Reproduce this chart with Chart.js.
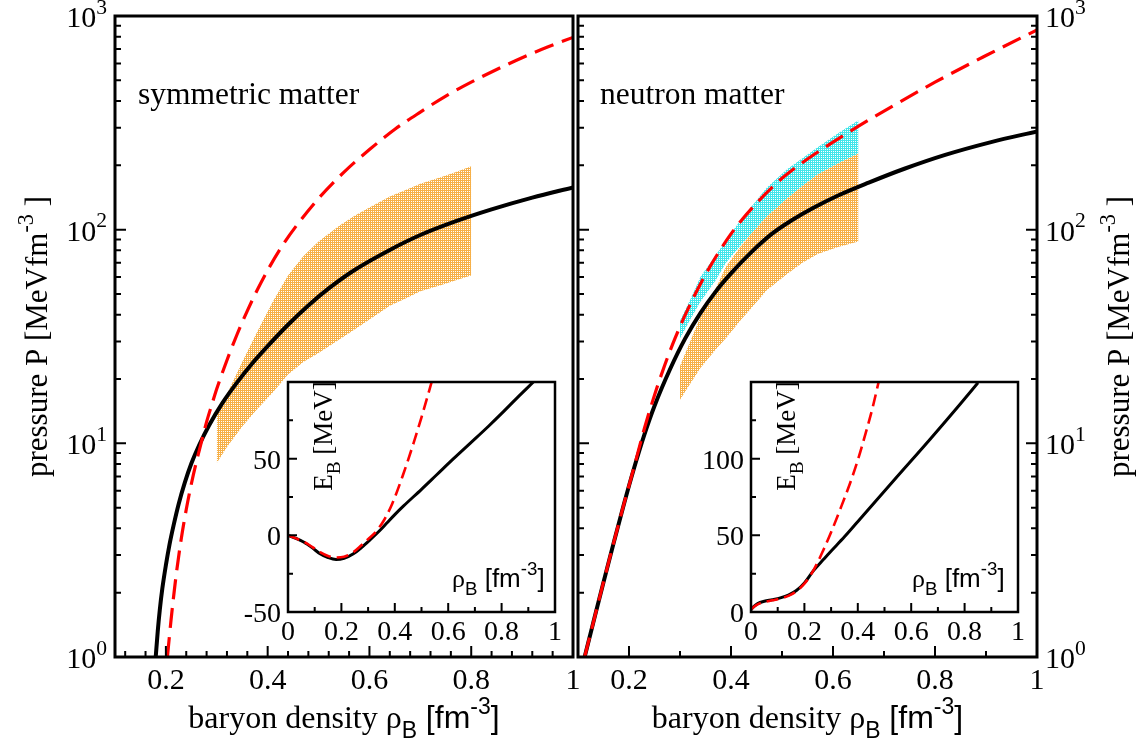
<!DOCTYPE html>
<html>
<head>
<meta charset="utf-8">
<script src="https://cdn.jsdelivr.net/npm/chart.js@4.4.1/dist/chart.umd.min.js"></script>
<style>
  html, body { margin: 0; padding: 0; background: #fff; }
  body { width: 1147px; height: 747px; position: relative; overflow: hidden; }
  canvas { position: absolute; }
</style>
</head>
<body>
<canvas id="symMain" width="600" height="747" style="left:0;top:0"></canvas>
<canvas id="neutMain" width="597" height="747" style="left:550px;top:0"></canvas>
<canvas id="symInset" width="340" height="300" style="left:230px;top:370px"></canvas>
<canvas id="neutInset" width="340" height="300" style="left:693px;top:370px"></canvas>
<script>
// ---- symmetric matter, pressure vs density ----
const symBlackRho = [0.180, 0.184, 0.188, 0.193, 0.200, 0.207, 0.215, 0.225, 0.237, 0.250, 0.265, 0.285, 0.31, 0.34, 0.37, 0.40, 0.44, 0.48, 0.52, 0.57, 0.64, 0.70, 0.77, 0.84, 0.92, 1.0];
const symBlackP   = [1.0, 1.32, 1.66, 2.09, 2.69, 3.35, 4.12, 5.19, 6.53, 8.04, 9.77, 12.16, 15.31, 19.28, 23.71, 28.5, 35.9, 44.2, 53.1, 64.6, 80.4, 94.4, 109.6, 124.5, 141.3, 157.8];
const symRedRho = [0.203, 0.21, 0.22, 0.23, 0.24, 0.25, 0.26, 0.27, 0.28, 0.29, 0.30, 0.32, 0.34, 0.36, 0.38, 0.40, 0.43, 0.46, 0.50, 0.55, 0.60, 0.65, 0.70, 0.75, 0.80, 0.85, 0.90, 0.95, 1.0];
const symRedP   = [1.0, 1.48, 2.4, 3.55, 4.9, 6.45, 8.2, 10.2, 12.6, 15.1, 18, 24.5, 32.4, 41.7, 52.5, 64.6, 85, 107, 140, 186, 237, 295, 355, 422, 490, 562, 638, 716, 794];
const symBandRho  = [0.30, 0.32, 0.35, 0.38, 0.41, 0.44, 0.47, 0.50, 0.54, 0.57, 0.60, 0.64, 0.67, 0.70, 0.74, 0.77, 0.80];
const symBandLow  = [8.1, 9.6, 12, 14.5, 17.3, 21, 24, 26.5, 30.5, 34, 38, 44, 47.5, 51.5, 55, 58, 61];
const symBandHigh = [13.8, 17, 24, 33.5, 46, 61, 75, 88, 104, 116, 127, 143, 153, 164, 176, 186, 198];

// ---- neutron matter, pressure vs density ----
const neutBlackRho = [0.113, 0.13, 0.15, 0.17, 0.19, 0.21, 0.23, 0.25, 0.28, 0.31, 0.34, 0.37, 0.40, 0.44, 0.48, 0.52, 0.56, 0.61, 0.67, 0.74, 0.82, 0.91, 1.0];
const neutBlackP   = [1.0, 1.45, 2.24, 3.43, 5.19, 7.67, 10.96, 14.96, 22.1, 30.9, 40.7, 51.3, 62.4, 78.5, 95.5, 110.9, 125.9, 144.5, 166, 192.8, 223.9, 257, 288.4];
const neutRedRho = [0.113, 0.13, 0.15, 0.17, 0.19, 0.21, 0.23, 0.25, 0.27, 0.29, 0.31, 0.35, 0.40, 0.45, 0.50, 0.55, 0.60, 0.65, 0.70, 0.80, 0.90, 1.0];
const neutRedP   = [1.0, 1.45, 2.24, 3.43, 5.19, 7.75, 11.7, 16.8, 23.2, 30.9, 39.8, 61.7, 95.5, 133, 174, 214, 257, 305, 359, 490, 653, 861];
const neutBandRho    = [0.30, 0.32, 0.34, 0.37, 0.39, 0.42, 0.44, 0.47, 0.51, 0.54, 0.57, 0.61, 0.65];
const neutOrangeLow  = [16, 19, 22.5, 27.5, 31, 38, 43, 52, 62, 70, 77, 83, 88];
const neutOrangeHigh = [23, 30, 39, 53, 67, 84, 96, 115, 140, 160, 181, 204, 227];
const neutCyanLow    = [31, 38, 46, 58, 70, 85, 96, 115, 140, 160, 181, 204, 227];
const neutCyanHigh   = [37.5, 47, 60, 76, 89, 112, 128, 157, 192, 216, 243, 283, 325];

// ---- insets: binding energy vs density ----
const symInsetBlackRho = [0, 0.03, 0.06, 0.09, 0.12, 0.15, 0.18, 0.21, 0.245, 0.275, 0.307, 0.34, 0.37, 0.40, 0.432, 0.50, 0.557, 0.62, 0.682, 0.75, 0.806, 0.86, 0.919];
const symInsetBlackE   = [0, -2, -4.5, -8, -12, -14.5, -15.8, -15, -12, -8, -3, 2.5, 8, 13.5, 19, 30, 39.5, 50, 60, 71, 80.5, 90, 100];
const symInsetRedRho = [0, 0.03, 0.06, 0.09, 0.12, 0.15, 0.18, 0.21, 0.245, 0.275, 0.30, 0.33, 0.36, 0.39, 0.43, 0.47, 0.50, 0.538];
const symInsetRedE   = [0, -2, -4.3, -7.5, -11, -13.5, -14.5, -14, -11, -6.5, -2.5, 2.5, 10, 20.5, 39, 60, 77, 100];
const neutInsetBlackRho = [0, 0.01, 0.025, 0.05, 0.08, 0.11, 0.14, 0.17, 0.2, 0.234, 0.27, 0.296, 0.35, 0.42, 0.546, 0.67, 0.783, 0.85];
const neutInsetBlackE   = [1.5, 3.5, 5.5, 7, 8, 9.2, 11, 14, 19, 27, 34, 39, 49, 63, 88, 112.5, 135.5, 149.5];
const neutInsetRedRho = [0, 0.01, 0.025, 0.05, 0.08, 0.11, 0.14, 0.17, 0.2, 0.225, 0.25, 0.27, 0.30, 0.333, 0.37, 0.40, 0.43, 0.455, 0.478];
const neutInsetRedE   = [1.5, 3.3, 5, 6.5, 7.6, 8.8, 10.5, 13.5, 18.5, 24.5, 32.5, 40, 52, 66.5, 83.5, 99, 117, 133, 150];

// ---- ticks ----
const mainXMajor  = [0.2, 0.4, 0.6, 0.8, 1.0];
const mainXLabels = ['0.2', '0.4', '0.6', '0.8', '1'];
const symXMinor  = [0.12, 0.16, 0.24, 0.28, 0.32, 0.36, 0.44, 0.48, 0.52, 0.56, 0.64, 0.68, 0.72, 0.76, 0.84, 0.88, 0.92, 0.96];
const neutXMinor = [0.3, 0.5, 0.7, 0.9];
const logMajor  = [1, 10, 100, 1000];
const logExp    = ['0', '1', '2', '3'];
const logMinor  = [2, 3, 4, 5, 6, 7, 8, 9, 20, 30, 40, 50, 60, 70, 80, 90, 200, 300, 400, 500, 600, 700, 800, 900];
const insetXMajor  = [0, 0.2, 0.4, 0.6, 0.8, 1];
const insetXLabels = ['0', '0.2', '0.4', '0.6', '0.8', '1'];
const insetXMinor  = [0.1, 0.3, 0.5, 0.7, 0.9];
const symInsetYMajor  = [-50, 0, 50];
const symInsetYMinor  = [-25, 25, 75];
const neutInsetYMajor = [0, 50, 100];
const neutInsetYMinor = [25, 75, 125];

const SERIF = '"Liberation Serif", "Times New Roman", Times, serif';
const SANS = '"Liberation Sans", Arial, Helvetica, sans-serif';

// draw a run of text pieces with sub/superscripts
function rich(ctx, parts, x, y, size, align) {
  let total = 0;
  const runs = parts.map(p => {
    const s = p[2] ? size * 0.72 : size;
    ctx.font = s.toFixed(1) + 'px ' + p[1];
    const w = ctx.measureText(p[0]).width;
    total += w;
    return { text: p[0], font: ctx.font, w, dy: p[2] === 'sub' ? size * 0.3 : p[2] === 'sup' ? -size * 0.45 : 0 };
  });
  let cx = align === 'center' ? x - total / 2 : align === 'right' ? x - total : x;
  ctx.textAlign = 'left';
  ctx.textBaseline = 'alphabetic';
  runs.forEach(r => { ctx.font = r.font; ctx.fillText(r.text, cx, y + r.dy); cx += r.w; });
}

function stipple(r, g, b) {
  const p = document.createElement('canvas');
  p.width = 2; p.height = 2;
  const q = p.getContext('2d');
  q.fillStyle = `rgb(${r},${g},${b})`;
  q.fillRect(0, 0, 2, 2);
  q.fillStyle = '#fff';
  q.fillRect(1, 1, 1, 1);
  return q.createPattern(p, 'repeat');
}
const orangeFill = stipple(246, 176, 72);
const cyanFill = stipple(64, 230, 235);

function pts(xs, ys) { return xs.map((v, i) => ({ x: v, y: ys[i] })); }

function curve(xs, ys, color, width, dash) {
  return { data: pts(xs, ys), borderColor: color, borderWidth: width, borderDash: dash || [],
           borderCapStyle: 'butt', pointRadius: 0, fill: false, cubicInterpolationMode: 'monotone' };
}
function edge(xs, ys, fillStyle) {
  return { data: pts(xs, ys), borderColor: 'rgba(0,0,0,0)', borderWidth: 0, pointRadius: 0,
           fill: fillStyle ? '-1' : false, backgroundColor: fillStyle || 'rgba(0,0,0,0)', tension: 0 };
}

// frame, inward ticks, tick labels and texts
function makeAxes(cfg) {
  return {
    id: 'frame',
    beforeDraw(chart) {
      if (!cfg.white) return;
      const a = chart.chartArea, c = chart.ctx;
      c.save();
      c.fillStyle = '#fff';
      c.fillRect(a.left, a.top, a.right - a.left, a.bottom - a.top);
      c.restore();
    },
    afterDraw(chart) {
      const c = chart.ctx, a = chart.chartArea, xs = chart.scales.x, ys = chart.scales.y;
      c.save();
      c.strokeStyle = '#000';
      c.fillStyle = '#000';
      c.lineWidth = cfg.tickWidth;
      c.beginPath();
      const tickX = (vals, len) => vals.forEach(v => {
        const p = xs.getPixelForValue(v);
        c.moveTo(p, a.bottom); c.lineTo(p, a.bottom - len);
      });
      const tickY = (vals, len, side) => vals.forEach(v => {
        const p = ys.getPixelForValue(v);
        if (side === 'left') { c.moveTo(a.left, p); c.lineTo(a.left + len, p); }
        else { c.moveTo(a.right, p); c.lineTo(a.right - len, p); }
      });
      tickX(cfg.xMinor, cfg.minorLen);
      tickX(cfg.xMajor, cfg.majorLen);
      cfg.ySides.forEach(s => { tickY(cfg.yMinor, cfg.minorLen, s); tickY(cfg.yMajor, cfg.majorLen, s); });
      c.stroke();
      c.lineWidth = cfg.frameWidth;
      c.strokeRect(a.left, a.top, a.right - a.left, a.bottom - a.top);

      cfg.xMajor.forEach((v, i) => rich(c, [[cfg.xLabels[i], SERIF]], xs.getPixelForValue(v), a.bottom + cfg.xLabelDy, cfg.tickSize, 'center'));
      cfg.yMajor.forEach((v, i) => {
        if (!cfg.yLabels[i]) return;
        const p = ys.getPixelForValue(v) + cfg.yLabelDy;
        const parts = cfg.yLog ? [['10', SERIF], [cfg.yLabels[i], SERIF, 'sup']] : [[cfg.yLabels[i], SERIF]];
        if (cfg.yLabelSide === 'left') rich(c, parts, a.left - cfg.yLabelGap, p, cfg.tickSize, 'right');
        else rich(c, parts, a.right + cfg.yLabelGap, p, cfg.tickSize, 'left');
      });
      cfg.texts.forEach(t => {
        const [x, y] = t.pos(a);
        c.save();
        c.translate(x, y);
        if (t.rot) c.rotate(-Math.PI / 2);
        rich(c, t.parts, 0, 0, t.size, t.align);
        c.restore();
      });
      c.restore();
    }
  };
}

function makeChart(id, cfg) {
  return new Chart(document.getElementById(id), {
    type: 'line',
    data: { datasets: cfg.datasets },
    options: {
      responsive: false,
      animation: false,
      events: [],
      layout: { padding: cfg.padding },
      scales: {
        x: { type: 'linear', min: cfg.xMin, max: cfg.xMax, display: false },
        y: { type: cfg.yLog ? 'logarithmic' : 'linear', min: cfg.yMin, max: cfg.yMax, display: false }
      },
      plugins: { legend: { display: false }, tooltip: { enabled: false } },
      elements: { point: { radius: 0 } }
    },
    plugins: [makeAxes(cfg)]
  });
}

const xTitle = [['baryon density ', SERIF], ['\u03c1', SERIF], ['B', SANS, 'sub'], [' [fm', SANS], ['-3', SANS, 'sup'], [']', SANS]];
const yTitle = [['pressure P [MeVfm', SERIF], ['-3', SERIF, 'sup'], [' ]', SERIF]];
const eTitle = [['E', SERIF], ['B', SERIF, 'sub'], [' [MeV]', SERIF]];
const rhoTitle = [['\u03c1', SERIF], ['B', SANS, 'sub'], [' [fm', SANS], ['-3', SANS, 'sup'], [']', SANS]];

const mainCommon = {
  xMin: 0.1, xMax: 1, yMin: 1, yMax: 1000, yLog: true,
  xMajor: mainXMajor, xLabels: mainXLabels, yMajor: logMajor, yMinor: logMinor, yLabels: logExp,
  tickWidth: 2, frameWidth: 3, majorLen: 11, minorLen: 6, tickSize: 30,
  xLabelDy: 32, yLabelDy: 11, yLabelGap: 8
};

makeChart('symMain', Object.assign({}, mainCommon, {
  padding: { left: 115, top: 16, right: 27, bottom: 90 },
  xMinor: symXMinor, ySides: ['left'], yLabelSide: 'left',
  datasets: [
    curve(symRedRho, symRedP, '#ff0000', 3.2, [20, 9]),
    curve(symBlackRho, symBlackP, '#000000', 4),
    edge(symBandRho, symBandLow),
    edge(symBandRho, symBandHigh, orangeFill)
  ],
  texts: [
    { parts: [['symmetric matter', SERIF]], size: 31.5, align: 'left', pos: a => [a.left + 23, a.top + 88] },
    { parts: xTitle, size: 32, align: 'center', pos: a => [(a.left + a.right) / 2, a.bottom + 71] },
    { parts: yTitle, size: 31, align: 'center', rot: true, pos: a => [a.left - 68, (a.top + a.bottom) / 2] }
  ]
}));

makeChart('neutMain', Object.assign({}, mainCommon, {
  padding: { left: 28, top: 16, right: 110, bottom: 90 },
  xMinor: neutXMinor, ySides: ['left', 'right'], yLabelSide: 'right',
  datasets: [
    curve(neutRedRho, neutRedP, '#ff0000', 3.2, [20, 9]),
    curve(neutBlackRho, neutBlackP, '#000000', 4),
    edge(neutBandRho, neutOrangeLow),
    edge(neutBandRho, neutOrangeHigh, orangeFill),
    edge(neutBandRho, neutCyanLow),
    edge(neutBandRho, neutCyanHigh, cyanFill)
  ],
  texts: [
    { parts: [['neutron matter', SERIF]], size: 31.5, align: 'left', pos: a => [a.left + 22, a.top + 88] },
    { parts: xTitle, size: 32, align: 'center', pos: a => [(a.left + a.right) / 2, a.bottom + 71] },
    { parts: yTitle, size: 31, align: 'center', rot: true, pos: a => [a.right + 92, (a.top + a.bottom) / 2] }
  ]
}));

const insetCommon = {
  xMin: 0, xMax: 1, yLog: false, white: true,
  xMajor: insetXMajor, xLabels: insetXLabels, xMinor: insetXMinor,
  ySides: ['left'], yLabelSide: 'left',
  tickWidth: 2, frameWidth: 2.5, majorLen: 9, minorLen: 5, tickSize: 28,
  xLabelDy: 28, yLabelDy: 10, yLabelGap: 7,
  padding: { left: 58, top: 12, right: 15, bottom: 58 }
};

makeChart('symInset', Object.assign({}, insetCommon, {
  yMin: -50, yMax: 100, yMajor: symInsetYMajor, yMinor: symInsetYMinor, yLabels: ['-50', '0', '50'],
  datasets: [
    curve(symInsetRedRho, symInsetRedE, '#ff0000', 2.6, [12, 6]),
    curve(symInsetBlackRho, symInsetBlackE, '#000000', 3)
  ],
  texts: [
    { parts: eTitle, size: 27, align: 'center', rot: true, pos: a => [a.left + 44, a.top + 54] },
    { parts: rhoTitle, size: 26, align: 'left', pos: a => [a.left + 164, a.bottom - 25] }
  ]
}));

makeChart('neutInset', Object.assign({}, insetCommon, {
  yMin: 0, yMax: 150, yMajor: neutInsetYMajor, yMinor: neutInsetYMinor, yLabels: ['0', '50', '100'],
  datasets: [
    curve(neutInsetRedRho, neutInsetRedE, '#ff0000', 2.6, [12, 6]),
    curve(neutInsetBlackRho, neutInsetBlackE, '#000000', 3)
  ],
  texts: [
    { parts: eTitle, size: 27, align: 'center', rot: true, pos: a => [a.left + 44, a.top + 54] },
    { parts: rhoTitle, size: 26, align: 'left', pos: a => [a.left + 161, a.bottom - 25] }
  ]
}));
</script>
</body>
</html>
